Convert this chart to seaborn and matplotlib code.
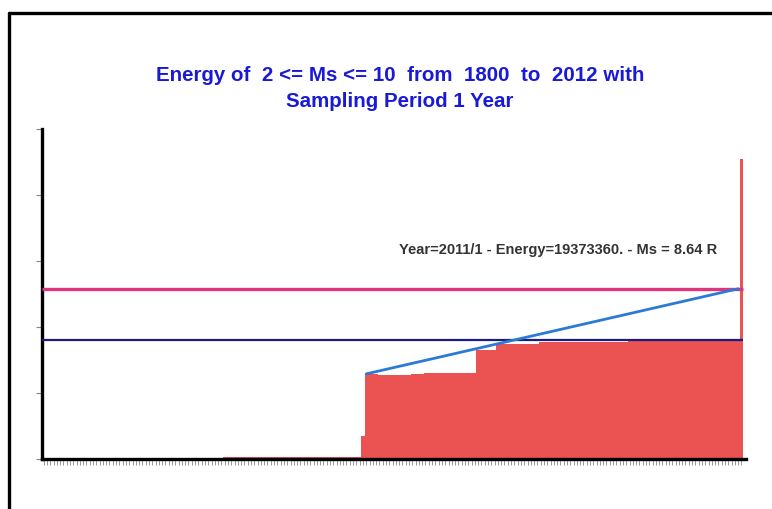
import numpy as np
import pandas as pd
import matplotlib
matplotlib.use("Agg")
import matplotlib.pyplot as plt
from matplotlib.lines import Line2D
from matplotlib.ticker import MultipleLocator
import seaborn as sns

# cumulative energy per year, in units of 1e7
years = list(range(1800, 2013))
energy = [
    0, 0, 0, 0, 0, 0, 0, 0, 0, 0,                                  # 1800s
    0, 0, 0, 0, 0, 0, 0, 0, 0, 0,                                  # 1810s
    0, 0, 0, 0, 0, 0, 0, 0, 0, 0,                                  # 1820s
    0, 0, 0, 0, 0, 0, 0, 0, 0, 0,                                  # 1830s
    0, 0, 0, 0, 0, 0, 0, 0, 0, 0,                                  # 1840s
    0, 0, 0, 0, 0, 0.03, 0.03, 0.03, 0.03, 0.03,                   # 1850s
    0.03, 0.03, 0.03, 0.03, 0.03, 0.03, 0.03, 0.03, 0.03, 0.03,    # 1860s
    0.03, 0.03, 0.03, 0.03, 0.03, 0.03, 0.03, 0.03, 0.03, 0.03,    # 1870s
    0.03, 0.03, 0.03, 0.03, 0.03, 0.03, 0.03, 0.03, 0.03, 0.03,    # 1880s
    0.03, 0.03, 0.03, 0.03, 0.03, 0.03, 0.03, 0.35, 1.29, 1.29,    # 1890s
    1.29, 1.29, 1.28, 1.28, 1.28, 1.28, 1.28, 1.28, 1.28, 1.28,    # 1900s
    1.28, 1.28, 1.29, 1.29, 1.29, 1.29, 1.31, 1.31, 1.31, 1.31,    # 1910s
    1.31, 1.31, 1.31, 1.31, 1.31, 1.31, 1.31, 1.31, 1.31, 1.31,    # 1920s
    1.31, 1.31, 1.65, 1.65, 1.65, 1.65, 1.65, 1.65, 1.74, 1.74,    # 1930s
    1.74, 1.74, 1.74, 1.74, 1.74, 1.74, 1.74, 1.74, 1.74, 1.74,    # 1940s
    1.74, 1.77, 1.77, 1.77, 1.77, 1.77, 1.77, 1.77, 1.77, 1.77,    # 1950s
    1.77, 1.77, 1.77, 1.77, 1.77, 1.77, 1.77, 1.77, 1.77, 1.77,    # 1960s
    1.77, 1.77, 1.77, 1.77, 1.77, 1.77, 1.77, 1.77, 1.81, 1.81,    # 1970s
    1.81, 1.81, 1.81, 1.81, 1.81, 1.81, 1.81, 1.81, 1.81, 1.81,    # 1980s
    1.81, 1.81, 1.81, 1.81, 1.81, 1.81, 1.81, 1.81, 1.81, 1.81,    # 1990s
    1.81, 1.81, 1.81, 1.81, 1.81, 1.81, 1.81, 1.81, 1.81, 1.81,    # 2000s
    1.81, 1.81, 4.55,                                              # 2010-2012
]

mean_level = 1.81      # dark blue horizontal line
upper_level = 2.58     # pink horizontal line
trend_years = [1898, 2011]
trend_vals = [1.29, 2.58]

title = "Energy of  2 <= Ms <= 10  from  1800  to  2012 with\nSampling Period 1 Year"
note = "Year=2011/1 - Energy=19373360. - Ms = 8.64 R"

df = pd.DataFrame({"year": years, "energy": energy})

sns.set_style("white")
plt.rcParams["font.family"] = ["Liberation Sans", "DejaVu Sans"]

fig = plt.figure(figsize=(7.72, 5.10), dpi=100)
ax = fig.add_axes([0.0544, 0.098, 0.912, 0.647])

sns.barplot(data=df, x="year", y="energy", color="#eb5252", width=1.0,
            saturation=1, linewidth=0, ax=ax)

n = len(years)
ax.hlines(upper_level, -0.5, n - 0.5, color="#e0347c", lw=2.4, zorder=3)
ax.hlines(mean_level, -0.5, n - 0.5, color="#1c1c80", lw=1.6, zorder=3)
ax.plot([y - years[0] for y in trend_years], trend_vals, color="#2a7ad6",
        lw=2.0, zorder=4)

ax.text(204.5, 3.18, note, ha="right", va="center", fontsize=10.5,
        fontweight="bold", color="#333333")

ax.set_xlim(-0.5, n + 0.4)
ax.set_ylim(0, 5)
ax.yaxis.set_major_locator(MultipleLocator(1))
ax.set_xticklabels([])
ax.set_yticklabels([])
ax.set_xlabel("")
ax.set_ylabel("")
ax.tick_params(axis="x", length=4, width=0.6, color="#888888", bottom=True)
ax.tick_params(axis="y", length=4, width=0.8, color="#888888", left=True)
for side in ["top", "right"]:
    ax.spines[side].set_visible(False)
for side in ["left", "bottom"]:
    ax.spines[side].set_linewidth(2.4)
    ax.spines[side].set_color("black")

fig.text(0.518, 0.826, title, ha="center", va="center", fontsize=14.8,
         fontweight="bold", color="#1a1ad6", linespacing=1.5)

# outer frame of the original window
fig.add_artist(Line2D([0.012, 1.0], [0.973, 0.973], color="black", lw=2.4))
fig.add_artist(Line2D([0.012, 0.012], [0.0, 0.973], color="black", lw=2.4))

fig.savefig("out.png", dpi=100)
